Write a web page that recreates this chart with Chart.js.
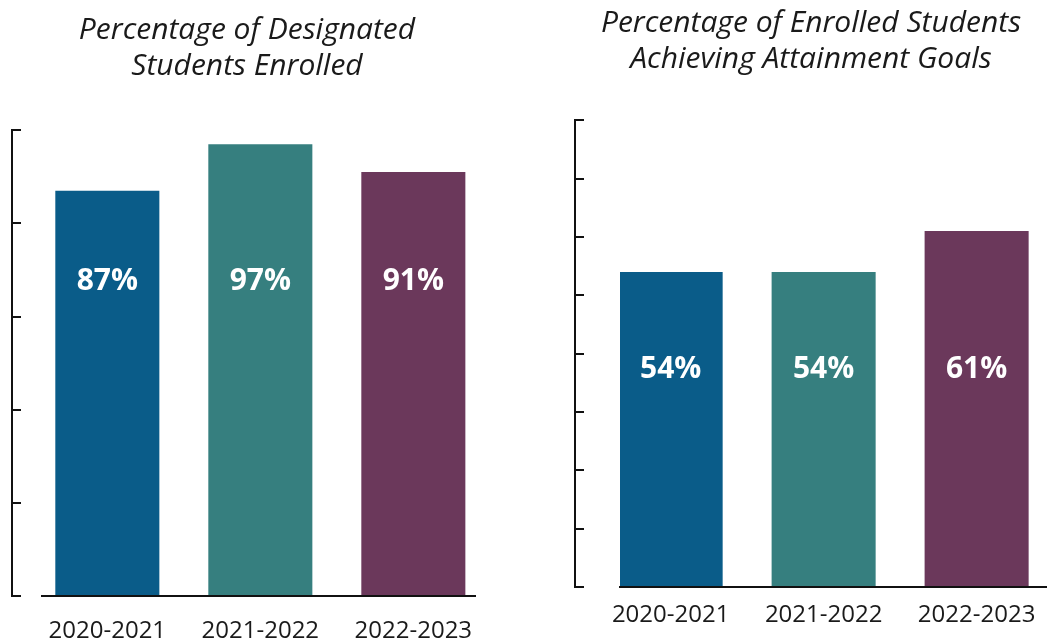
<!DOCTYPE html>
<html>
<head>
<meta charset="utf-8">
<script src="https://cdn.jsdelivr.net/npm/chart.js@4.4.1/dist/chart.umd.min.js"></script>
<style>
  body { margin:0; background:#fff; width:1047px; height:644px; position:relative; overflow:hidden; }
  canvas { position:absolute; top:0; }
  #enrolled { left:0; }
  #attain { left:565px; }
</style>
</head>
<body>
<canvas id="enrolled" width="494" height="644"></canvas>
<canvas id="attain" width="482" height="644"></canvas>
<script>
var years = ['2020-2021', '2021-2022', '2022-2023'];
var enrolledPct = [87, 97, 91];
var attainmentPct = [54, 54, 61];
var enrolledTicks = { min: 0, max: 100, step: 20 };
var attainTicks = { min: 0, max: 80, step: 10 };

var color = {
    blue: '#0a5c89',
    teal: '#367f7f',
    plum: '#6b385b',
    axis: '#111111',
    text: '#1a1a1a'
};
var FONT = "'Open Sans', 'Noto Sans', sans-serif";

// white % labels sitting at a fixed height inside each bar
var valueLabels = {
    id: 'valueLabels',
    afterDatasetsDraw: function(chart, args, opts) {
        var ctx = chart.ctx;
        var meta = chart.getDatasetMeta(0);
        var y = chart.scales.y.getPixelForValue(opts.at);
        ctx.save();
        ctx.fillStyle = '#ffffff';
        ctx.font = 'bold 30px ' + FONT;
        ctx.textAlign = 'center';
        ctx.textBaseline = 'middle';
        meta.data.forEach(function(bar, i) {
            ctx.fillText(chart.data.datasets[0].data[i].y + '%', bar.x, y);
        });
        ctx.restore();
    }
};

function makeChart(id, title, values, yt, cfg) {
    var ctx = document.getElementById(id).getContext('2d');
    return new Chart(ctx, {
        type: 'bar',
        data: {
            datasets: [{
                data: values.map(function(v, i) { return { x: i, y: v }; }),
                backgroundColor: [color.blue, color.teal, color.plum],
                borderWidth: 0,
                barPercentage: 0.68,
                categoryPercentage: 1
            }]
        },
        plugins: [valueLabels],
        options: {
            responsive: false,
            animation: false,
            layout: { padding: cfg.padding },
            plugins: {
                legend: { display: false },
                tooltip: { enabled: false },
                valueLabels: { at: cfg.labelAt },
                title: {
                    display: true,
                    text: title,
                    color: color.text,
                    font: { family: FONT, size: 30, style: 'italic', weight: 'normal', lineHeight: 1.22 },
                    padding: cfg.titlePad
                }
            },
            scales: {
                x: {
                    type: 'linear',
                    position: 'bottom',
                    offset: false,
                    min: cfg.xMin,
                    max: cfg.xMax,
                    afterBuildTicks: function(scale) {
                        scale.ticks = years.map(function(y, i) { return { value: i }; });
                    },
                    grid: { display: false, drawTicks: true, tickLength: cfg.xGap },
                    border: { display: true, color: color.axis, width: 2 },
                    ticks: {
                        autoSkip: false,
                        maxRotation: 0,
                        padding: 0,
                        color: color.text,
                        font: { family: FONT, size: 24, lineHeight: 1 },
                        callback: function(v) { return years[v]; }
                    }
                },
                y: {
                    type: 'linear',
                    position: { x: cfg.yAt },
                    min: yt.min,
                    max: yt.max,
                    ticks: { display: false, stepSize: yt.step },
                    grid: { display: true, drawOnChartArea: false, drawTicks: true, tickLength: -10, color: color.axis, lineWidth: 2 },
                    border: { display: true, color: color.axis, width: 2 }
                },
                padL: {
                    type: 'linear', position: 'left', axis: 'y',
                    grid: { display: false, drawTicks: false }, border: { display: false }, ticks: { display: false },
                    afterFit: function(s) { s.width = cfg.leftGap; }
                },
                padR: {
                    type: 'linear', position: 'right', axis: 'y',
                    grid: { display: false, drawTicks: false }, border: { display: false }, ticks: { display: false },
                    afterFit: function(s) { s.width = cfg.rightGap; }
                }
            }
        }
    });
}

var enrolledChart = makeChart('enrolled', ['Percentage of Designated', 'Students Enrolled'], enrolledPct, enrolledTicks, {
    padding: { left: 0, right: 0, top: 0, bottom: 1 },
    titlePad: { top: 12, bottom: 45 },
    leftGap: 42, rightGap: 19,
    xMin: -0.427, xMax: 2.403, yAt: -0.623,
    xGap: 23, labelAt: 67.6
});

var attainChart = makeChart('attain', ['Percentage of Enrolled Students', 'Achieving Attainment Goals'], attainmentPct, attainTicks, {
    padding: { left: 10, right: 0, top: 0, bottom: 17 },
    titlePad: { top: 5, bottom: 42 },
    leftGap: 45, rightGap: 0,
    xMin: -0.331, xMax: 2.46, yAt: -0.625,
    xGap: 16, labelAt: 37.3
});
</script>
</body>
</html>
